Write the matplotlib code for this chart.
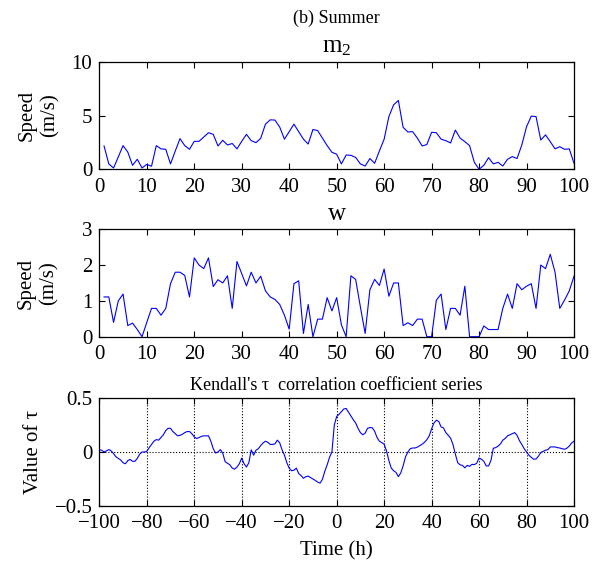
import numpy as np
import matplotlib
matplotlib.use("Agg")
import matplotlib.pyplot as plt

plt.rcParams["font.family"] = ["Liberation Serif", "DejaVu Serif"]
plt.rcParams["mathtext.fontset"] = "custom"
plt.rcParams["mathtext.rm"] = "Liberation Serif"
plt.rcParams["mathtext.default"] = "regular"

# hours of the series
hours = list(range(1, 101))

# wind speed at m2 (m/s)
m2_speed = [
    2.17, 0.5, 0.12, 1.15, 2.2, 1.6, 0.37, 0.93, 0.12, 0.46,
    0.28, 2.2, 1.9, 1.86, 0.5, 1.7, 2.85, 2.2, 1.86, 2.6,
    2.6, 3.0, 3.4, 3.25, 2.17, 2.7, 2.26, 2.4, 1.9, 2.6,
    3.25, 2.66, 2.48, 2.88, 4.2, 4.6, 4.58, 3.93, 2.8, 3.5,
    4.2, 3.5, 2.8, 2.35, 3.7, 3.6, 2.9, 2.2, 1.58, 1.4,
    0.5, 1.33, 1.3, 1.1, 0.5, 0.3, 1.0, 0.56, 1.7, 2.8,
    4.9, 6.0, 6.4, 3.9, 3.47, 3.5, 2.9, 2.17, 2.3, 3.44,
    3.4, 2.8, 2.66, 2.45, 3.65, 2.9, 2.57, 2.2, 0.65, 0.0,
    0.37, 1.08, 0.5, 0.65, 0.3, 0.93, 1.18, 1.0, 2.26, 3.96,
    4.95, 4.9, 2.72, 3.2, 2.57, 1.9, 2.1, 1.86, 1.9, 0.56,
]

# wind speed at w (m/s)
w_speed = [
    1.11, 1.11, 0.4, 1.0, 1.19, 0.31, 0.38, 0.2, 0.0, 0.4,
    0.79, 0.79, 0.6, 0.79, 1.48, 1.8, 1.8, 1.71, 1.11, 2.2,
    2.0, 1.9, 2.2, 1.4, 1.59, 1.5, 1.7, 0.79, 2.1, 1.76,
    1.42, 1.8, 1.5, 1.69, 1.28, 1.11, 1.04, 0.9, 0.6, 0.21,
    1.48, 1.56, 0.09, 0.9, 0.0, 0.49, 0.49, 1.09, 0.72, 1.09,
    0.33, 0.0, 1.7, 1.6, 0.83, 0.09, 1.31, 1.6, 1.43, 1.89,
    1.13, 1.5, 1.5, 0.31, 0.39, 0.31, 0.49, 0.49, 0.0, 0.0,
    1.02, 1.19, 0.2, 0.79, 0.79, 0.6, 1.41, 0.0, 0.0, 0.0,
    0.3, 0.2, 0.2, 0.2, 0.79, 1.19, 0.79, 1.48, 1.31, 1.41,
    1.48, 0.79, 2.0, 1.9, 2.3, 1.8, 0.79, 1.02, 1.28, 1.69,
]

# lag (h) and Kendall's tau
lags = list(range(-100, 101))
tau = [
    0.02, 0.016, 0.0, 0.01, 0.022, 0.01, -0.015, -0.045, -0.06, -0.075,
    -0.1, -0.11, -0.08, -0.07, -0.087, -0.087, -0.06, -0.02, 0.0, 0.0,
    0.005, 0.04, 0.07, 0.1, 0.115, 0.11, 0.135, 0.16, 0.2, 0.22,
    0.22, 0.19, 0.17, 0.15, 0.155, 0.165, 0.18, 0.19, 0.19, 0.17,
    0.14, 0.125, 0.134, 0.145, 0.15, 0.15, 0.15, 0.1, 0.03, -0.01,
    0.0, 0.022, -0.01, -0.09, -0.105, -0.12, -0.15, -0.16, -0.14, -0.11,
    -0.056, -0.11, -0.14, -0.1, 0.02, -0.03, 0.016, 0.03, 0.06, 0.084,
    0.1, 0.09, 0.07, 0.07, 0.075, 0.11, 0.085, 0.02, -0.03, -0.1,
    -0.15, -0.175, -0.17, -0.15, -0.2, -0.22, -0.245, -0.23, -0.225, -0.238,
    -0.25, -0.265, -0.28, -0.29, -0.255, -0.18, -0.12, -0.05, 0.0, 0.25,
    0.33, 0.35, 0.375, 0.4, 0.405, 0.37, 0.335, 0.3, 0.27, 0.22,
    0.18, 0.16, 0.175, 0.22, 0.227, 0.225, 0.193, 0.135, 0.1, 0.087,
    0.072, 0.01, -0.08, -0.15, -0.175, -0.19, -0.23, -0.195, -0.13, -0.046,
    0.0, 0.03, 0.037, 0.037, 0.045, 0.058, 0.072, 0.09, 0.115, 0.15,
    0.215, 0.27, 0.295, 0.285, 0.233, 0.224, 0.18, 0.155, 0.128, 0.07,
    -0.02, -0.1, -0.12, -0.125, -0.148, -0.125, -0.134, -0.115, -0.118, -0.105,
    -0.056, -0.068, -0.087, -0.13, -0.13, -0.08, 0.035, 0.04, 0.055, 0.075,
    0.11, 0.125, 0.15, 0.16, 0.17, 0.18, 0.155, 0.105, 0.07, 0.03,
    0.0, -0.03, -0.05, -0.068, -0.065, -0.04, -0.005, 0.006, 0.016, 0.022,
    0.047, 0.047, 0.047, 0.04, 0.037, 0.03, 0.025, 0.035, 0.055, 0.084,
    0.1,
]

fig = plt.figure(figsize=(6.13, 5.62), dpi=100)

left, width, height = 0.162, 0.7744, 0.1912
ax1 = fig.add_axes([left, 0.6988, width, height])
ax2 = fig.add_axes([left, 0.4009, width, height])
ax3 = fig.add_axes([left, 0.1002, width, height])


def style_axes(ax):
    ax.tick_params(direction="in", top=True, right=True, length=4,
                   width=0.8, labelsize=15)
    ax.tick_params(axis="x", pad=6)
    ax.tick_params(axis="y", pad=5)
    for sp in ax.spines.values():
        sp.set_linewidth(0.9)


# m2 panel
ax1.plot(hours, m2_speed, color="#0000ff", linewidth=0.8)
ax1.set_xlim(0, 100)
ax1.set_ylim(0, 10)
ax1.set_xticks(range(0, 101, 10))
ax1.set_yticks([0, 5, 10])
ax1.set_ylabel("Speed\n(m/s)", fontsize=15, linespacing=1.25, labelpad=9)
ax1.set_title("m$_2$", fontsize=18, pad=7)
style_axes(ax1)

# w panel
ax2.plot(hours, w_speed, color="#0000ff", linewidth=0.8)
ax2.set_xlim(0, 100)
ax2.set_ylim(0, 3)
ax2.set_xticks(range(0, 101, 10))
ax2.set_yticks([0, 1, 2, 3])
ax2.set_ylabel("Speed\n(m/s)", fontsize=15, linespacing=1.25, labelpad=17)
ax2.set_title("w", fontsize=18, pad=7)
style_axes(ax2)

# Kendall's tau panel
ax3.plot(lags, tau, color="#0000ff", linewidth=0.8)
ax3.set_xlim(-100, 100)
ax3.set_ylim(-0.5, 0.5)
ax3.set_xticks(range(-100, 101, 20))
ax3.set_yticks([-0.5, 0, 0.5])
ax3.set_yticklabels(["\u22120.5", "0", "0.5"])
ax3.grid(True, linestyle=":", color="black", linewidth=0.8)
ax3.set_ylabel("Value of \u03c4", fontsize=15, labelpad=8)
ax3.set_xlabel("Time (h)", fontsize=15, labelpad=6)
ax3.set_title("Kendall's \u03c4  correlation coefficient series", fontsize=13, pad=6)
style_axes(ax3)

fig.text(left + width / 2, 1 - 18 / 562, "(b) Summer", ha="center",
         va="center", fontsize=13)

fig.savefig("out.png", dpi=100)
